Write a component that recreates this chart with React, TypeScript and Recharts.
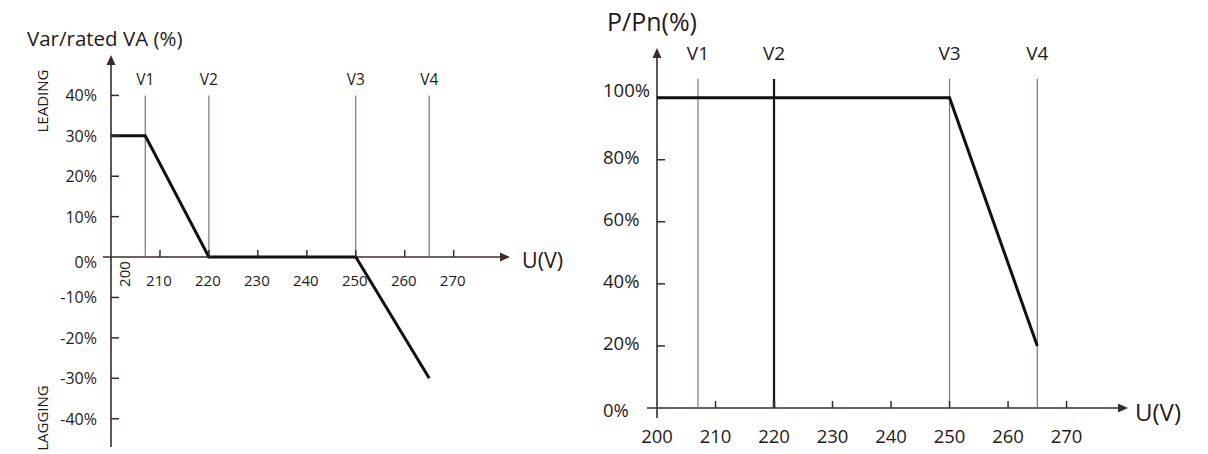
import React from 'react';
import { LineChart, Line, XAxis, YAxis, ReferenceLine, ReferenceDot } from 'recharts';

// ---------- data ----------
const leftU = [200, 207, 220, 250, 265];
const leftQ = [30, 30, 0, 0, -30];
const rightU = [200, 250, 265];
const rightP = [100, 100, 20];
const leftYTicks = [40, 30, 20, 10, 0, -10, -20, -30, -40];
const rightYTicks = [0, 20, 40, 60, 80, 100];
const xTicks = [200, 210, 220, 230, 240, 250, 260, 270];
const vNames = ['V1', 'V2', 'V3', 'V4'];
const vValues = [207, 220, 250, 265];

const leftData = leftU.map((u, i) => ({ u, q: leftQ[i] }));
const rightData = rightU.map((u, i) => ({ u, p: rightP[i] }));

const FONT = '"Open Sans", "Noto Sans", sans-serif';
const TEXT = '#241a18';
const AXIS = '#3a2c28';
const VLINE = '#8c6e64';

const hArrow = (extLeft: number) => (p: any) => {
  const xl = Math.min(p.x1, p.x2);
  const xr = Math.max(p.x1, p.x2);
  const y = p.y1;
  return (
    <g>
      <line x1={xl - extLeft} y1={y} x2={xr - 6} y2={y} stroke={AXIS} strokeWidth={1.6} />
      <polygon points={`${xr},${y} ${xr - 10},${y - 4.5} ${xr - 10},${y + 4.5}`} fill={AXIS} />
    </g>
  );
};

const vArrow = (extBottom: number) => (p: any) => {
  const yt = Math.min(p.y1, p.y2);
  const yb = Math.max(p.y1, p.y2);
  const x = p.x1;
  return (
    <g>
      <line x1={x} y1={yt + 6} x2={x} y2={yb + extBottom} stroke={AXIS} strokeWidth={1.6} />
      <polygon points={`${x},${yt} ${x - 4.5},${yt + 10} ${x + 4.5},${yt + 10}`} fill={AXIS} />
    </g>
  );
};

const vLineShape = (name: string, labelGap: number, fs: number, color: string, w: number) => (p: any) => {
  const yt = Math.min(p.y1, p.y2);
  const yb = Math.max(p.y1, p.y2);
  const x = p.x1;
  return (
    <g>
      <line x1={x} y1={yt} x2={x} y2={yb} stroke={color} strokeWidth={w} />
      <text x={x} y={yt - labelGap} textAnchor="middle" dominantBaseline="central" fontSize={fs} fill={TEXT} fontFamily={FONT}>
        {name}
      </text>
    </g>
  );
};

const LeftYTick = (p: any) => {
  const { x, y, payload } = p;
  const v = payload.value;
  const dy = v === 0 ? 5 : 0;
  return (
    <g>
      {v !== 0 && <line x1={x} y1={y} x2={x + 8} y2={y} stroke={AXIS} strokeWidth={1.5} />}
      <text x={x - 14} y={y + dy} textAnchor="end" dominantBaseline="central" fontSize={16} fill={TEXT} fontFamily={FONT}>
        {v}%
      </text>
    </g>
  );
};

const leftXTickShape = (v: number) => (p: any) => {
  const { cx, cy } = p;
  if (v === 200) {
    return (
      <text x={cx + 13} y={cy + 17} textAnchor="middle" dominantBaseline="central" fontSize={15} fill={TEXT} fontFamily={FONT}
        transform={`rotate(-90 ${cx + 13} ${cy + 17})`}>
        {v}
      </text>
    );
  }
  return (
    <g>
      <line x1={cx} y1={cy} x2={cx} y2={cy - 7} stroke={AXIS} strokeWidth={1.5} />
      <text x={cx - 1} y={cy + 23} textAnchor="middle" dominantBaseline="central" fontSize={15} fill={TEXT} fontFamily={FONT}>
        {v}
      </text>
    </g>
  );
};

const RightYTick = (p: any) => {
  const { x, y, payload } = p;
  const v = payload.value;
  const dy = v === 100 ? -8 : v === 0 ? 1 : -3;
  return (
    <g>
      {v !== 0 && v !== 100 && <line x1={x} y1={y} x2={x + 8} y2={y} stroke={AXIS} strokeWidth={1.5} />}
      <text x={x - 54} y={y + dy} textAnchor="start" dominantBaseline="central" fontSize={18.5} fill={TEXT} fontFamily={FONT}>
        {v}%
      </text>
    </g>
  );
};

const RightXTick = (p: any) => {
  const { x, y, payload } = p;
  const v = payload.value;
  return (
    <g>
      {v !== 200 && <line x1={x} y1={y} x2={x} y2={y - 7} stroke={AXIS} strokeWidth={v === 220 ? 2.5 : 1.5} />}
      <text x={x} y={y + 27} textAnchor="middle" dominantBaseline="central" fontSize={18.5} fill={TEXT} fontFamily={FONT}>
        {v}
      </text>
    </g>
  );
};

export default function App() {
  return (
    <div style={{ position: 'absolute', left: 0, top: 0, width: 1208, height: 454, background: '#fff', overflow: 'hidden' }}>
      {/* Left chart */}
      <div style={{ position: 'absolute', left: 0, top: 0 }}>
        <LineChart width={600} height={454} data={leftData} margin={{ top: 55, right: 90, bottom: 7, left: 51 }}>
          <XAxis type="number" dataKey="u" domain={[200, 281.5]} allowDataOverflow hide />
          <YAxis
            type="number"
            domain={[-47, 50]}
            allowDataOverflow
            ticks={leftYTicks}
            interval={0}
            width={60}
            tickSize={0}
            tickMargin={0}
            tickLine={false}
            axisLine={false}
            tick={<LeftYTick />}
          />
          <ReferenceLine y={0} shape={hArrow(8)} />
          <ReferenceLine x={200} shape={vArrow(0)} />
          {vValues.map((v, i) => (
            <ReferenceLine
              key={vNames[i]}
              segment={[{ x: v, y: 0 }, { x: v, y: 40 }]}
              shape={vLineShape(vNames[i], 16, 15.5, VLINE, 1.2)}
            />
          ))}
          {xTicks.map((t) => (
            <ReferenceDot key={t} x={t} y={0} r={0} shape={leftXTickShape(t)} />
          ))}
          <Line type="linear" dataKey="q" stroke="#111" strokeWidth={3} dot={false} isAnimationActive={false} />
        </LineChart>
      </div>

      {/* Right chart */}
      <div style={{ position: 'absolute', left: 580, top: 0 }}>
        <LineChart width={628} height={454} data={rightData} margin={{ top: 48, right: 80, bottom: 16, left: 27 }}>
          <XAxis
            type="number"
            dataKey="u"
            domain={[200, 280.5]}
            allowDataOverflow
            ticks={xTicks}
            interval={0}
            height={30}
            tickSize={0}
            tickMargin={0}
            tickLine={false}
            axisLine={false}
            tick={<RightXTick />}
          />
          <YAxis
            type="number"
            domain={[0, 116]}
            allowDataOverflow
            ticks={rightYTicks}
            interval={0}
            width={50}
            tickSize={0}
            tickMargin={0}
            tickLine={false}
            axisLine={false}
            tick={<RightYTick />}
          />
          <ReferenceLine y={0} shape={hArrow(10)} />
          <ReferenceLine x={200} shape={vArrow(10)} />
          {vValues.map((v, i) => (
            <ReferenceLine
              key={vNames[i]}
              segment={[{ x: v, y: 0 }, { x: v, y: 106 }]}
              shape={vLineShape(vNames[i], 26, 19, i === 1 ? '#1a1210' : VLINE, i === 1 ? 2.2 : 1.2)}
            />
          ))}
          <Line type="linear" dataKey="p" stroke="#111" strokeWidth={3} dot={false} isAnimationActive={false} />
        </LineChart>
      </div>

      {/* Titles and side labels */}
      <svg width={1208} height={454} style={{ position: 'absolute', left: 0, top: 0, pointerEvents: 'none' }}>
        <text x={27} y={38} dominantBaseline="central" fontSize={20.5} fill={TEXT} fontFamily={FONT}>Var/rated VA (%)</text>
        <text x={42} y={101} textAnchor="middle" dominantBaseline="central" fontSize={15} fill={TEXT} fontFamily={FONT}
          transform="rotate(-90 42 101)">LEADING</text>
        <text x={42} y={418} textAnchor="middle" dominantBaseline="central" fontSize={15} fill={TEXT} fontFamily={FONT}
          transform="rotate(-90 42 418)">LAGGING</text>
        <text x={522} y={259} dominantBaseline="central" fontSize={21.5} fill={TEXT} fontFamily={FONT}>U(V)</text>
        <text x={607} y={21} dominantBaseline="central" fontSize={25} fill={TEXT} fontFamily={FONT}>P/Pn(%)</text>
        <text x={1135} y={411} dominantBaseline="central" fontSize={24} fill={TEXT} fontFamily={FONT}>U(V)</text>
      </svg>
    </div>
  );
}
